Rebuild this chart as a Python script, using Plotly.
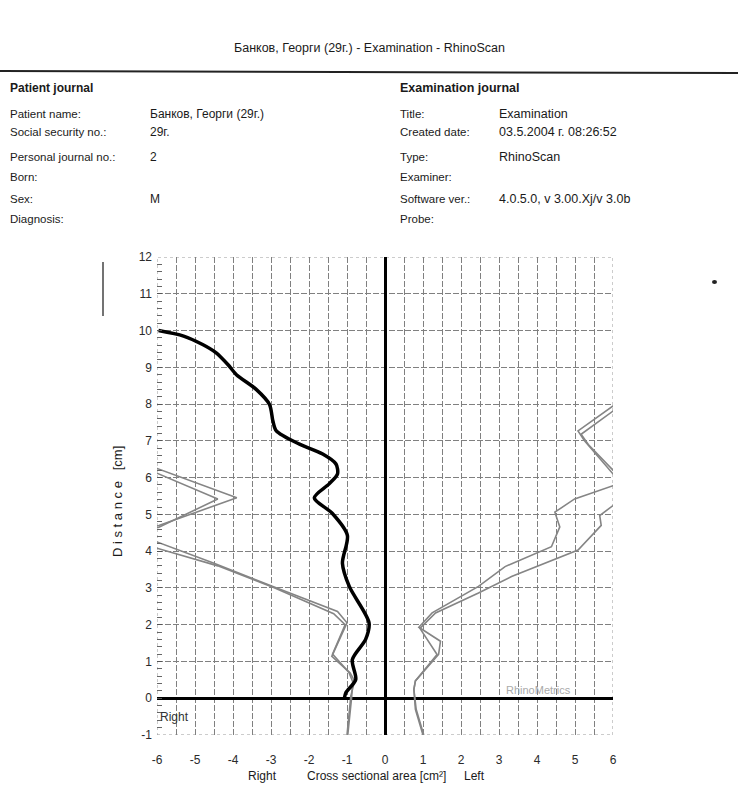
import plotly.graph_objects as go

# ---------------- data ----------------
x_ticks = [-6, -5, -4, -3, -2, -1, 0, 1, 2, 3, 4, 5, 6]
y_ticks = [-1, 0, 1, 2, 3, 4, 5, 6, 7, 8, 9, 10, 11, 12]

# thick black curve (right side, plotted negative)
black_y = [10.0, 9.85, 9.62, 9.40, 9.07, 8.80, 8.40, 7.99, 7.54, 7.27, 6.91, 6.64, 6.37, 6.10,
           5.83, 5.45, 5.03, 4.43, 3.67, 3.04, 2.05, 1.60, 1.05, 0.51, 0.15, 0.0]
black_x = [-5.96, -5.30, -4.80, -4.45, -4.13, -3.91, -3.39, -3.04, -2.95, -2.86, -2.25, -1.64, -1.29, -1.25,
           -1.47, -1.86, -1.39, -0.99, -1.12, -0.94, -0.42, -0.51, -0.86, -0.77, -1.03, -1.07]

# right nostril curves (gray, negative side)
right_a_y = [6.35, 6.25, 5.45, 4.70, 4.55, 4.35, 4.25, 3.67, 3.04, 2.36, 2.05, 1.14, 0.69, 0.47, 0.06, -0.5, -1.0]
right_a_x = [-6.3, -6.0, -3.9, -5.95, -6.5, -6.5, -6.0, -4.5, -2.95, -1.25, -1.0, -1.4, -0.92, -0.80, -0.90, -0.95, -1.0]
right_b_y = [6.2, 6.12, 5.42, 4.65, 4.5, 4.2, 4.08, 3.6, 3.0, 2.3, 2.0, 1.2, 0.7, 0.45, 0.0, -0.5, -1.0]
right_b_x = [-6.3, -6.0, -4.4, -5.95, -6.5, -6.5, -6.0, -4.4, -2.9, -1.35, -1.05, -1.38, -0.95, -0.85, -0.88, -0.93, -0.98]

# left nostril curves (gray, positive side)
left_a_y = [8.2, 7.95, 7.27, 7.0, 6.1, 5.9, 5.78, 5.42, 5.06, 4.66, 4.12, 3.58, 3.04, 2.32, 1.93, 1.55, 1.19, 0.47, 0.24, -0.3, -1.0]
left_a_x = [6.5, 6.0, 5.08, 5.25, 6.0, 6.4, 6.0, 4.99, 4.47, 4.60, 4.38, 3.16, 2.46, 1.24, 0.89, 1.46, 1.41, 0.80, 0.76, 0.80, 1.0]
left_b_y = [8.05, 7.81, 7.18, 6.9, 6.2, 5.7, 5.24, 4.97, 4.70, 4.03, 3.31, 2.86, 2.32, 1.90, 1.19, 0.47, 0.24, -0.3, -1.0]
left_b_x = [6.4, 6.0, 5.16, 5.35, 6.0, 6.5, 6.0, 5.65, 5.69, 5.08, 3.33, 2.46, 1.33, 0.92, 1.37, 0.80, 0.76, 0.82, 1.02]

header_title = "Банков, Георги (29г.) - Examination - RhinoScan"
patient_labels = ["Patient name:", "Social security no.:", "Personal journal no.:", "Born:", "Sex:", "Diagnosis:"]
patient_values = ["Банков, Георги (29г.)", "29г.", "2", "", "M", ""]
exam_labels = ["Title:", "Created date:", "Type:", "Examiner:", "Software ver.:", "Probe:"]
exam_values = ["Examination", "03.5.2004 г. 08:26:52", "RhinoScan", "", "4.0.5.0, v 3.00.Xj/v 3.0b", ""]

# ---------------- layout helpers (pixel -> paper) ----------------
W, H = 738, 797
PL, PR, PT, PB = 157, 613, 257, 735


def px(x):
    return (x - PL) / (PR - PL)


def py(y):
    return (PB - y) / (PB - PT)


FONT = "Liberation Sans, Arial, sans-serif"
INK = "#1a1a1a"

fig = go.Figure()

gray = "#858585"
for xs, ys in [(right_a_x, right_a_y), (right_b_x, right_b_y), (left_a_x, left_a_y), (left_b_x, left_b_y)]:
    fig.add_trace(go.Scatter(x=xs, y=ys, mode="lines", line=dict(color=gray, width=1.6),
                             hoverinfo="skip", showlegend=False))

fig.add_trace(go.Scatter(x=black_x, y=black_y, mode="lines",
                         line=dict(color="#000000", width=3.5, shape="spline", smoothing=0.8),
                         hoverinfo="skip", showlegend=False))

grid_col = "#808080"
tick_font = dict(family=FONT, size=12, color="#2a2a2a")
fig.update_xaxes(range=[-6, 6], tickvals=x_ticks, ticktext=[str(v) for v in x_ticks],
                 showgrid=True, gridcolor=grid_col, gridwidth=1, griddash="6px,2px",
                 minor=dict(dtick=0.5, showgrid=True, gridcolor=grid_col, gridwidth=1, griddash="6px,2px"),
                 zeroline=True, zerolinecolor="#000", zerolinewidth=3,
                 showline=False, ticks="", ticklabelstandoff=16,
                 tickfont=tick_font, fixedrange=True)
fig.update_yaxes(range=[-1, 12], tickvals=y_ticks, ticktext=[str(v) for v in y_ticks],
                 showgrid=True, gridcolor=grid_col, gridwidth=1, griddash="6px,2px",
                 zeroline=True, zerolinecolor="#000", zerolinewidth=3,
                 showline=False, ticks="inside", ticklen=5, tickcolor="#555",
                 minor=dict(dtick=0.2, ticks="inside", ticklen=5, tickcolor="#666", showgrid=False),
                 ticklabelstandoff=4,
                 tickfont=tick_font, fixedrange=True)

shapes = [
    # plot frame
    dict(type="rect", xref="x", yref="y", x0=-6, x1=6, y0=-1, y1=12,
         line=dict(color="#999", width=1, dash="dot"), layer="below"),
    # header rule
    dict(type="line", xref="paper", yref="paper", x0=px(0), x1=px(738), y0=py(71), y1=py(73),
         line=dict(color="#222", width=2)),
    # scan artefacts
    dict(type="line", xref="paper", yref="paper", x0=px(103), x1=px(103), y0=py(262), y1=py(316),
         line=dict(color="#444", width=1.5)),
    dict(type="circle", xref="paper", yref="paper", x0=px(712), x1=px(717), y0=py(280), y1=py(284),
         fillcolor="#222", line=dict(width=0)),
]

ann = []


def text(x, y, s, size=11, bold=False, anchor="left", color=INK):
    if bold:
        s = "<b>" + s + "</b>"
    ann.append(dict(x=px(x), y=py(y), xref="paper", yref="paper",
                    text=s, showarrow=False, xanchor=anchor, yanchor="middle",
                    font=dict(family=FONT, size=size, color=color)))


text(369, 48, header_title, size=12.5, anchor="center")
text(8, 88, "Patient journal", size=12, bold=True)
text(398, 88, "Examination journal", size=12.5, bold=True)
row_y = [114, 132, 157, 177, 199, 219]
for i, yy in enumerate(row_y):
    text(8, yy, patient_labels[i], size=11.5)
    if patient_values[i]:
        text(148, yy, patient_values[i], size=12)
    text(398, yy, exam_labels[i], size=11.5)
    if exam_values[i]:
        text(497, yy, exam_values[i], size=12.5)

# axis titles
text(262, 776, "Right", size=12, anchor="center")
text(376, 776, "Cross sectional area [cm²]", size=12, anchor="center")
text(474, 776, "Left", size=12, anchor="center")
ann.append(dict(x=px(117), y=py(502), xref="paper", yref="paper", text="D i s t a n c e   [cm]",
                textangle=-90, showarrow=False, xanchor="center", yanchor="middle",
                font=dict(family=FONT, size=13, color=INK)))

# in-plot texts
ann.append(dict(x=-5.55, y=-0.52, xref="x", yref="y", text="Right", showarrow=False,
                xanchor="center", yanchor="middle", font=dict(family=FONT, size=12, color="#333")))
ann.append(dict(x=4.05, y=0.22, xref="x", yref="y", text="RhinoMetrics", showarrow=False,
                xanchor="center", yanchor="middle", font=dict(family=FONT, size=11, color="#aaa")))

fig.update_layout(width=W, height=H, margin=dict(l=PL, r=W - PR, t=PT, b=H - PB, autoexpand=False),
                  plot_bgcolor="white", paper_bgcolor="white", shapes=shapes, annotations=ann,
                  showlegend=False)

fig.write_html("out.html", config={"displayModeBar": False})
